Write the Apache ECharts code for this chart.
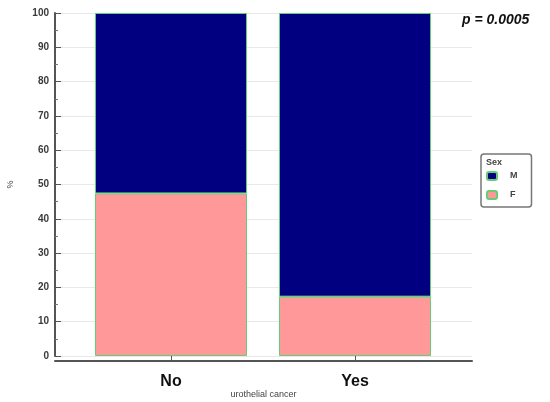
<!DOCTYPE html>
<html>
<head>
<meta charset="utf-8">
<script src="https://cdn.jsdelivr.net/npm/echarts@6/dist/echarts.min.js"></script>
<style>
  html, body { margin: 0; padding: 0; background: #fff; }
  #main { width: 550px; height: 402px; }
</style>
</head>
<body>
<div id="main"></div>
<script>
// groups on the x axis
var categories = ["No", "Yes"];
// percent of each group
var femalePct = [47.4, 17.3];
var malePct = [52.6, 82.7];
var yTicks = [0, 10, 20, 30, 40, 50, 60, 70, 80, 90, 100];

var chart = echarts.init(document.getElementById("main"));
var font = "Liberation Sans, Arial, sans-serif";
var yMin = yTicks[0], yMax = yTicks[yTicks.length - 1];

var option = {
  backgroundColor: "#fff",
  animation: false,
  // grid 0 carries the frame (axis lines, grid lines), grid 1 the bars
  grid: [
    { left: 55, right: 78, top: 13, bottom: 46, outerBoundsMode: "none" },
    { left: 79, right: 103, top: 13, bottom: 46, outerBoundsMode: "none" }
  ],
  xAxis: [
    {
      gridIndex: 0,
      type: "value",
      min: 0,
      max: 1,
      offset: 5,
      name: "urothelial cancer",
      nameLocation: "middle",
      nameGap: 29,
      nameTextStyle: { fontFamily: font, fontSize: 9, color: "#444" },
      axisLine: { onZero: false, lineStyle: { color: "#555", width: 2 } },
      axisTick: { show: false },
      axisLabel: { show: false },
      splitLine: { show: false }
    },
    {
      gridIndex: 1,
      type: "category",
      data: categories,
      offset: 5,
      axisLine: { show: false, onZero: false },
      axisTick: { show: true, inside: true, length: 6, alignWithLabel: true, lineStyle: { color: "#555" } },
      axisLabel: { margin: 13, fontFamily: font, fontSize: 16, fontWeight: "bold", color: "#111" },
      splitLine: { show: false }
    }
  ],
  yAxis: [
    {
      gridIndex: 0,
      type: "value",
      min: yMin,
      max: yMax,
      interval: 10,
      name: "%",
      nameLocation: "middle",
      nameGap: 40,
      nameRotate: 90,
      nameTextStyle: { fontFamily: font, fontSize: 9, color: "#444" },
      axisLine: { show: true, onZero: false, lineStyle: { color: "#555", width: 2 } },
      axisTick: { show: true, inside: true, length: 6, lineStyle: { color: "#555" } },
      minorTick: { show: true, splitNumber: 2, length: 3, lineStyle: { color: "#777" } },
      axisLabel: { margin: 6, fontFamily: font, fontSize: 10, fontWeight: "bold", color: "#3a3a3a" },
      splitLine: { lineStyle: { color: "#e8e8e8" } }
    },
    {
      gridIndex: 1,
      type: "value",
      min: yMin,
      max: yMax,
      show: false
    }
  ],
  legend: {
    orient: "vertical",
    left: 481,
    top: 154,
    data: ["M", "F"],
    padding: [17, 14, 7, 5],
    itemWidth: 10,
    itemHeight: 8,
    itemGap: 9,
    borderColor: "#777",
    borderWidth: 1.5,
    borderRadius: 3,
    textStyle: { fontFamily: font, fontSize: 9, fontWeight: "bold", color: "#444", padding: [0, 0, 0, 8] }
  },
  graphic: [
    {
      type: "text",
      left: 486,
      top: 158,
      style: { text: "Sex", font: "bold 9px " + font, fill: "#444" }
    },
    {
      type: "text",
      left: 462,
      top: 13,
      style: { text: "p = 0.0005", font: "italic bold 14px " + font, fill: "#111" }
    }
  ],
  series: [
    {
      name: "F",
      type: "bar",
      xAxisIndex: 1,
      yAxisIndex: 1,
      stack: "sex",
      barWidth: 152,
      itemStyle: { color: "#ff9999", borderColor: "#66cc77", borderWidth: 1 },
      data: femalePct
    },
    {
      name: "M",
      type: "bar",
      xAxisIndex: 1,
      yAxisIndex: 1,
      stack: "sex",
      barWidth: 152,
      itemStyle: { color: "#000080", borderColor: "#66cc77", borderWidth: 1 },
      data: malePct
    }
  ]
};

chart.setOption(option);
</script>
</body>
</html>
